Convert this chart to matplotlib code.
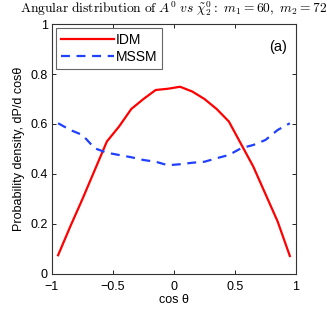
import numpy as np
import matplotlib
matplotlib.use("Agg")
import matplotlib.pyplot as plt

plt.rcParams['font.family'] = ['Liberation Sans', 'DejaVu Sans']
plt.rcParams['mathtext.fontset'] = 'cm'

cos_theta = [-0.95, -0.85, -0.75, -0.65, -0.55, -0.45, -0.35, -0.25, -0.15, -0.05,
             0.05, 0.15, 0.25, 0.35, 0.45, 0.55, 0.65, 0.75, 0.85, 0.95]
idm = [0.075, 0.19, 0.30, 0.415, 0.53, 0.59, 0.66, 0.70, 0.736, 0.741,
       0.749, 0.73, 0.70, 0.66, 0.61, 0.52, 0.43, 0.32, 0.21, 0.072]
mssm = [0.603, 0.576, 0.556, 0.503, 0.485, 0.476, 0.467, 0.456, 0.449, 0.435,
        0.439, 0.445, 0.449, 0.463, 0.476, 0.503, 0.516, 0.536, 0.576, 0.603]

fig = plt.figure(figsize=(3.27, 3.16), dpi=100)
ax = fig.add_axes([0.159, 0.133, 0.746, 0.791])

ax.plot(cos_theta, idm, color='#ff0000', lw=1.6, label='IDM')
ax.plot(cos_theta, mssm, color='#2040ff', lw=1.6, ls=(0, (4, 3)), label='MSSM')

ax.set_xlim(-1, 1)
ax.set_ylim(0, 1)
ax.set_xticks([-1, -0.5, 0, 0.5, 1])
ax.set_xticklabels(['\u22121', '\u22120.5', '0', '0.5', '1'])
ax.set_yticks([0, 0.2, 0.4, 0.6, 0.8, 1])
ax.set_yticklabels(['0', '0.2', '0.4', '0.6', '0.8', '1'])
ax.tick_params(direction='in', top=True, right=True, labelsize=9, length=3, width=0.6)
ax.tick_params(axis='x', pad=5)
ax.tick_params(axis='y', pad=3)
for s in ax.spines.values():
    s.set_linewidth(0.8)
    s.set_color('#333333')

ax.set_xlabel('cos \u03b8', fontsize=9, labelpad=1)
ax.set_ylabel('Probability density, dP/d cos\u03b8', fontsize=9, labelpad=4)
ax.set_title(r'$\mathrm{Angular\ distribution\ of\ }A^0\ vs\ \tilde{\chi}^0_2\mathrm{:\ }m_1\mathrm{=60,\ }m_2\mathrm{=72}$',
             fontsize=9.7, pad=8)

ax.text(0.85, 0.91, '(a)', fontsize=10.5, ha='center', va='center')

leg = ax.legend(loc='upper left', fontsize=10, fancybox=False, framealpha=1,
                edgecolor='#666666', handlelength=3.8, borderaxespad=0.3,
                handletextpad=0.15, labelspacing=0.2, borderpad=0.35)
leg.get_frame().set_linewidth(0.8)

fig.savefig('out.png', dpi=100)
